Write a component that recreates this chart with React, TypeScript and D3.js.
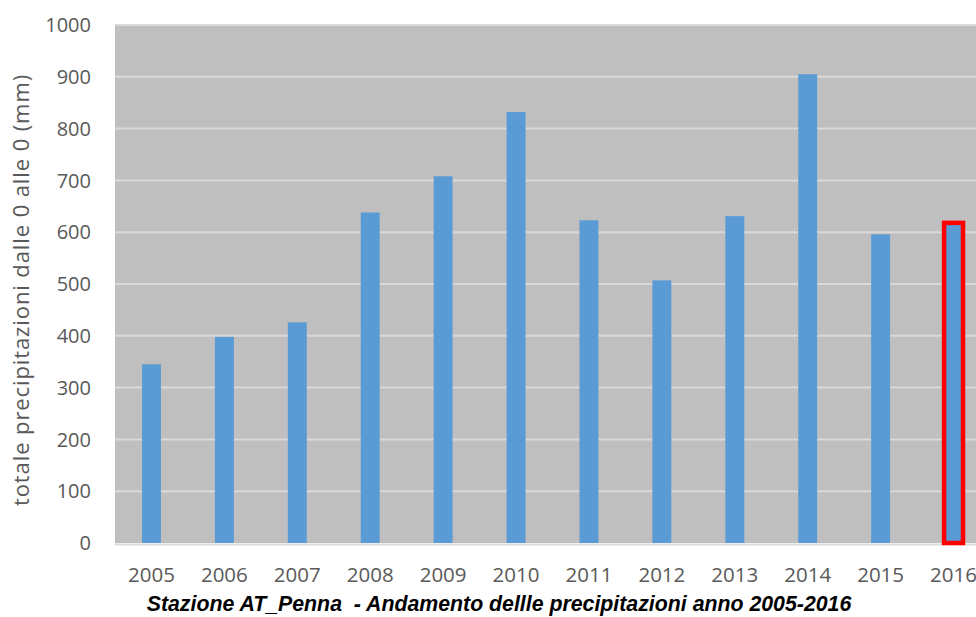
import React from "react";
import * as d3 from "d3";

// Annual precipitation totals, station AT_Penna
const years = ["2005", "2006", "2007", "2008", "2009", "2010", "2011", "2012", "2013", "2014", "2015", "2016"];
const totals = [345, 398, 426, 638, 708, 832, 623, 507, 631, 905, 596, 618];
const yTicks = [0, 100, 200, 300, 400, 500, 600, 700, 800, 900, 1000];
const highlightYear = "2016";

const W = 976;
const H = 617;
const plot = { left: 115, right: 990, top: 25, bottom: 543 };

export default function App() {
  const x = d3
    .scaleBand<string>()
    .domain(years)
    .range([plot.left, plot.right])
    .paddingInner(0.74)
    .paddingOuter(0.37);
  const y = d3.scaleLinear().domain([0, 1000]).range([plot.bottom, plot.top]);
  const bw = x.bandwidth();
  const font = "'Open Sans', 'DejaVu Sans', sans-serif";

  return (
    <svg
      width={W}
      height={H}
      style={{ position: "absolute", left: 0, top: 0, background: "#fff" }}
      fontFamily={font}
    >
      <rect
        x={plot.left}
        y={plot.top}
        width={plot.right - plot.left}
        height={plot.bottom - plot.top}
        fill="#bfbfbf"
      />
      <line x1={plot.left} x2={W} y1={plot.bottom + 1.5} y2={plot.bottom + 1.5} stroke="#dcdcdc" strokeWidth={2} />
      {yTicks.slice(1).map((t) => (
        <line key={t} x1={plot.left} x2={plot.right} y1={y(t)} y2={y(t)} stroke="#d9d9d9" strokeWidth={2} />
      ))}
      {yTicks.map((t) => (
        <text key={t} x={91} y={y(t)} dy="0.36em" textAnchor="end" fontSize={20} fill="#595959">
          {t}
        </text>
      ))}
      {years.map((yr, i) => (
        <rect
          key={yr}
          x={x(yr)!}
          y={y(totals[i])}
          width={bw}
          height={y(0) - y(totals[i])}
          fill="#5b9bd5"
        />
      ))}
      {years.map((yr) => (
        <text
          key={yr}
          x={x(yr)! + bw / 2}
          y={582}
          textAnchor="middle"
          fontSize={20.5}
          fill="#595959"
        >
          {yr}
        </text>
      ))}
      {years
        .map((yr, i) => ({ yr, v: totals[i] }))
        .filter((d) => d.yr === highlightYear)
        .map((d) => (
          <rect
            key={d.yr}
            x={x(d.yr)!}
            y={y(d.v)}
            width={bw}
            height={y(0) - y(d.v)}
            fill="none"
            stroke="#ff0000"
            strokeWidth={4.5}
          />
        ))}
      <text
        transform={`translate(29, ${290}) rotate(-90)`}
        textAnchor="middle"
        fontSize={22}
        letterSpacing={0.9}
        fill="#595959"
      >
        totale precipitazioni dalle 0 alle 0 (mm)
      </text>
      <text
        x={499}
        y={611}
        textAnchor="middle"
        fontSize={21.3}
        fontWeight="bold"
        fontStyle="italic"
        fontFamily="'Liberation Sans', Arial, sans-serif"
        fill="#000"
        style={{ whiteSpace: "pre" }}
      >
        Stazione AT_Penna  - Andamento dellle precipitazioni anno 2005-2016
      </text>
    </svg>
  );
}
